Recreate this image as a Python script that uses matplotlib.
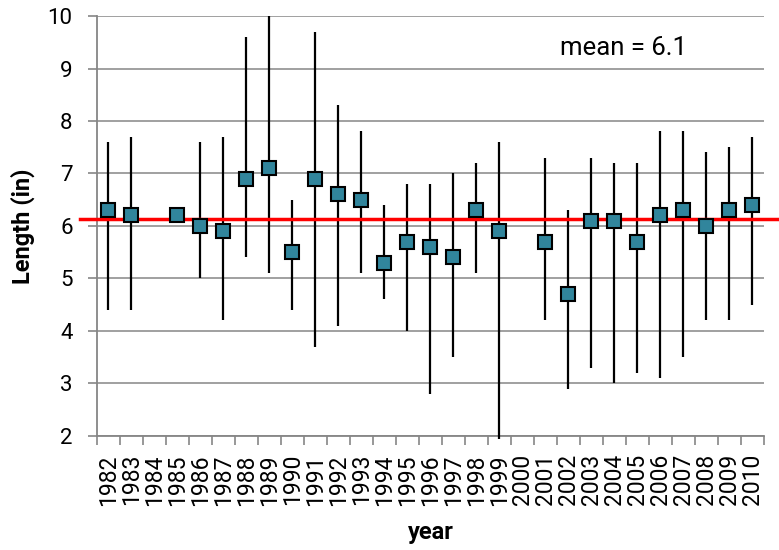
"""
Annual mean length with min/max range, plus overall mean line
"""

import numpy as np
import matplotlib
matplotlib.use('Agg')
import matplotlib.pyplot as plt

# Categories on the x axis (1984 and 2000 have no data)
YEARS = list(range(1982, 2011))

# Mean length per year (None = no sample)
MEANS = [6.3, 6.2, None, 6.2, 6.0, 5.9, 6.9, 7.1, 5.5, 6.9,
         6.6, 6.5, 5.3, 5.7, 5.6, 5.4, 6.3, 5.9, None, 5.7,
         4.7, 6.1, 6.1, 5.7, 6.2, 6.3, 6.0, 6.3, 6.4]

# Range of lengths per year
LOWS = [4.4, 4.4, None, 6.2, 5.0, 4.2, 5.4, 5.1, 4.4, 3.7,
        4.1, 5.1, 4.6, 4.0, 2.8, 3.5, 5.1, 1.95, None, 4.2,
        2.9, 3.3, 3.0, 3.2, 3.1, 3.5, 4.2, 4.2, 4.5]
HIGHS = [7.6, 7.7, None, 6.2, 7.6, 7.7, 9.6, 10.0, 6.5, 9.7,
         8.3, 7.8, 6.4, 6.8, 6.8, 7.0, 7.2, 7.6, None, 7.3,
         6.3, 7.3, 7.2, 7.2, 7.8, 7.8, 7.4, 7.5, 7.7]

OVERALL_MEAN = 6.13
MEAN_LABEL = 'mean = 6.1'

plt.rcParams['font.family'] = ['Roboto', 'DejaVu Sans']
GRAY = '#868686'

fig = plt.figure(figsize=(7.79, 5.5), dpi=100)
ax = fig.add_axes([0.1245, 0.2073, 0.8562, 0.7636])

x = np.arange(len(YEARS))
mask = np.array([m is not None for m in MEANS])
xs = x[mask]
means = np.array([m for m in MEANS if m is not None])
lows = np.array([v for v in LOWS if v is not None])
highs = np.array([v for v in HIGHS if v is not None])

# Range bars
ax.vlines(xs, lows, highs, color='black', linewidth=1.6, zorder=3, clip_on=False)

# Overall mean line (runs a bit past the plot area, like the original)
ax.plot([-1.24, len(YEARS) - 0.5 + 0.66], [OVERALL_MEAN, OVERALL_MEAN],
        color='#ff0000', linewidth=2.5, zorder=4, clip_on=False)

# Yearly means
ax.plot(xs, means, linestyle='none', marker='s', markersize=10.5,
        markerfacecolor='#31859c', markeredgecolor='black',
        markeredgewidth=1.5, zorder=5)

ax.text(0.694, 0.925, MEAN_LABEL, transform=ax.transAxes, fontsize=18.5,
        ha='left', va='center')

# Axes
ax.set_xlim(-0.5, len(YEARS) - 0.5)
ax.set_ylim(2, 10)
ax.set_yticks(np.arange(2, 11, 1))
ax.tick_params(axis='y', labelsize=16, length=6.5, width=1.2, color=GRAY, pad=11)
ax.grid(axis='y', color=GRAY, linewidth=1.1, zorder=0)
ax.set_axisbelow(True)

# Category labels centered, ticks at category boundaries
ax.set_xticks(x)
ax.set_xticklabels([str(y) for y in YEARS], rotation=90, fontsize=16.5)
ax.tick_params(axis='x', which='major', length=0, pad=13)
ax.set_xticks(np.arange(-0.5, len(YEARS)), minor=True)
ax.tick_params(axis='x', which='minor', length=6.5, width=1.2, color=GRAY)

for side in ['top', 'right']:
    ax.spines[side].set_visible(False)
for side in ['left', 'bottom']:
    ax.spines[side].set_color(GRAY)
    ax.spines[side].set_linewidth(1.3)

ax.set_ylabel('Length (in)', fontsize=17, fontweight='bold')
ax.yaxis.set_label_coords(-0.093, 0.5)
ax.set_xlabel('year', fontsize=17, fontweight='bold', va='baseline')
ax.xaxis.set_label_coords(0.5, -0.246)

fig.savefig('out.png', dpi=100)
